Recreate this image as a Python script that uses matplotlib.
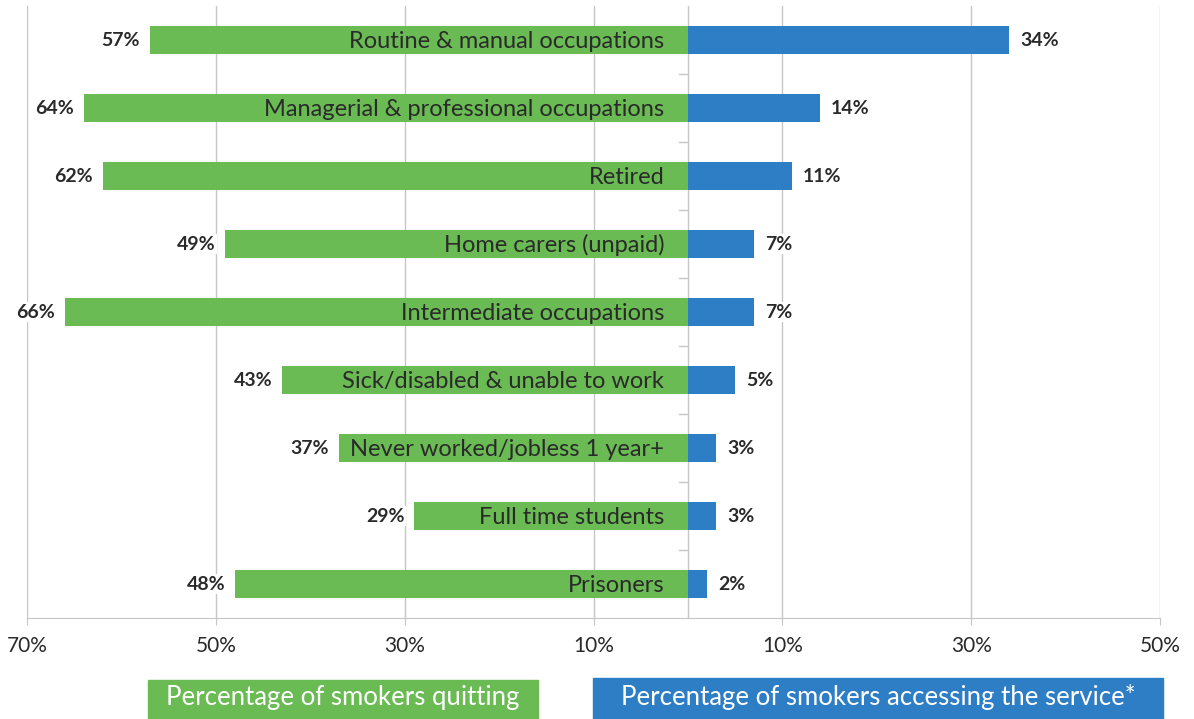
import matplotlib
matplotlib.use("Agg")
import matplotlib.pyplot as plt
from matplotlib.patches import Rectangle

categories = [
    "Routine & manual occupations",
    "Managerial & professional occupations",
    "Retired",
    "Home carers (unpaid)",
    "Intermediate occupations",
    "Sick/disabled & unable to work",
    "Never worked/jobless 1 year+",
    "Full time students",
    "Prisoners",
]
quitting = [57, 64, 62, 49, 66, 43, 37, 29, 48]
accessing = [34, 14, 11, 7, 7, 5, 3, 3, 2]
tick_vals = [-70, -50, -30, -10, 10, 30, 50]
tick_labels = ["70%", "50%", "30%", "10%", "10%", "30%", "50%"]
legend_labels = ["Percentage of smokers quitting",
                 "Percentage of smokers accessing the service*"]

GREEN = "#6abb53"
BLUE = "#2e7ec5"
GRID = "#c6c6c6"
TEXT = "#2a2a2a"

plt.rcParams['font.family'] = ['Lato', 'DejaVu Sans']

fig = plt.figure(figsize=(11.94, 7.19), dpi=100)
ax = fig.add_axes([27/1194, 1 - 618/719, (1160 - 27)/1194, 612/719])

n = len(categories)
ys = list(range(n))
ax.barh(ys, [-q for q in quitting], height=0.4, color=GREEN, zorder=2)
ax.barh(ys, accessing, height=0.4, color=BLUE, zorder=2)

ax.set_xlim(-70, 50)
ax.set_ylim(n - 0.5, -0.5)

# gridlines
for t in tick_vals:
    ax.axvline(t, color=GRID, lw=1, zorder=0)
ax.axvline(0, color=GRID, lw=1, zorder=1)
# small category ticks on the zero line
for i in range(1, n):
    ax.plot([-0.9, 0], [i - 0.5, i - 0.5], color=GRID, lw=1, zorder=1)

ax.set_xticks(tick_vals)
ax.set_xticklabels(tick_labels, fontsize=15, color=TEXT)
ax.tick_params(axis='x', length=5, color=GRID, pad=8)
ax.set_yticks([])
for s in ["top", "right", "left"]:
    ax.spines[s].set_visible(False)
ax.spines["bottom"].set_color(GRID)

for i in ys:
    ax.annotate(categories[i], (0, i), xytext=(-17, -1), textcoords="offset points",
                ha="right", va="center", fontsize=17, color=TEXT, zorder=3)
    ax.annotate(f"{quitting[i]}%", (-quitting[i], i), xytext=(-7, 0),
                textcoords="offset points", ha="right", va="center",
                fontsize=14, fontweight="bold", color=TEXT, zorder=3,
                bbox=dict(boxstyle="square,pad=0.1", fc="white", ec="none"))
    ax.annotate(f"{accessing[i]}%", (accessing[i], i), xytext=(8, 0),
                textcoords="offset points", ha="left", va="center",
                fontsize=14, fontweight="bold", color=TEXT, zorder=3,
                bbox=dict(boxstyle="square,pad=0.1", fc="white", ec="none"))

# legend boxes at the bottom
boxes = [(148, 538, 680, GREEN), (593, 1163, 678, BLUE)]
for (x0, x1, ytop, col), lab in zip(boxes, legend_labels):
    fig.patches.append(Rectangle((x0/1194, 0), (x1 - x0)/1194, 1 - ytop/719,
                                 transform=fig.transFigure, color=col))
    fig.text((x0 + x1)/2/1194, 1 - 697/719, lab, ha="center", va="center",
             fontsize=18.5, color="white")

fig.savefig("out.png", dpi=100)
